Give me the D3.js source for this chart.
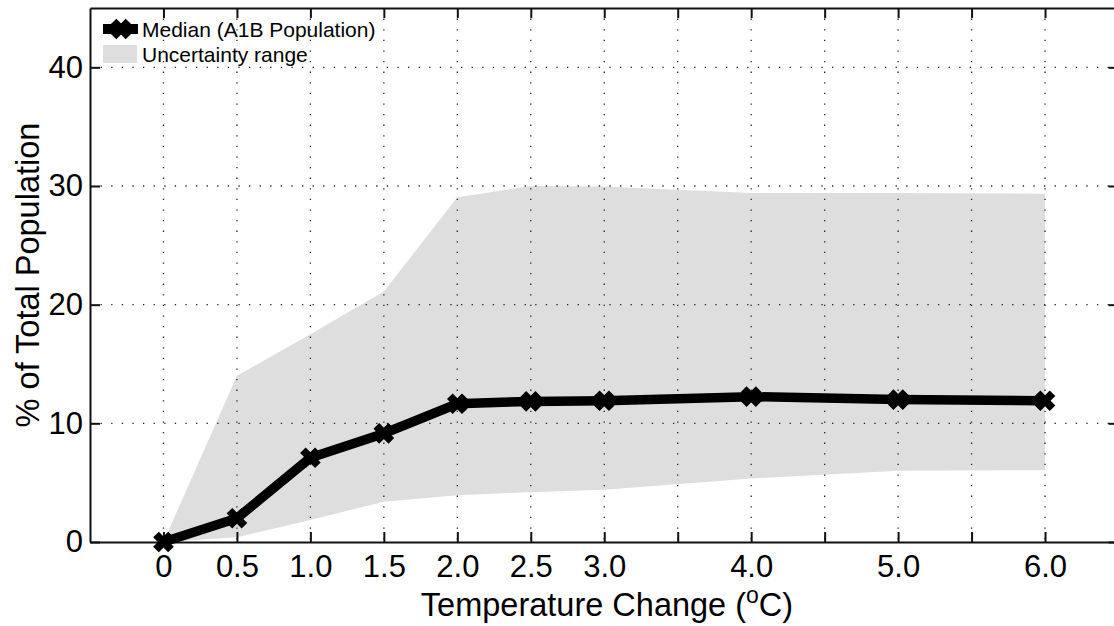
<!DOCTYPE html>
<html><head><meta charset="utf-8">
<script src="https://cdn.jsdelivr.net/npm/d3@7/dist/d3.min.js"></script>
<style>
html,body{margin:0;padding:0;background:#fff;}
svg{display:block;font-family:"Liberation Sans",Arial,Helvetica,sans-serif;}
</style></head>
<body>
<svg id="chart" width="1114" height="626"></svg>
<script>
// ---- data ----
const temps  = [0, 0.5, 1.0, 1.5, 2.0, 2.5, 3.0, 4.0, 5.0, 6.0];
const median = [0, 2.0, 7.1, 9.15, 11.65, 11.85, 11.9, 12.25, 12.0, 11.9];
const upper  = [0, 14.0, 17.5, 21.1, 29.05, 30.0, 29.95, 29.4, 29.4, 29.35];
const lower  = [0, 0.4, 1.85, 3.4, 3.95, 4.2, 4.4, 5.35, 6.0, 6.05];
const xTicks = [0, 0.5, 1.0, 1.5, 2.0, 2.5, 3.0, 3.5, 4.0, 4.5, 5.0, 5.5, 6.0];
const xTickLabels = ["0", "0.5", "1.0", "1.5", "2.0", "2.5", "3.0", "", "4.0", "", "5.0", "", "6.0"];
const yTicks = [0, 10, 20, 30, 40];
const legendLabels = ["Median (A1B Population)", "Uncertainty range"];

const svg = d3.select("#chart");
const x = d3.scaleLinear().domain([-0.5, 6.5]).range([90, 1118.5]);
const y = d3.scaleLinear().domain([0, 45]).range([542, 8]);
const X0 = x.range()[0], X1 = x.range()[1], Y0 = y.range()[0], Y1 = y.range()[1];

const pts = temps.map((t, i) => ({t, m: median[i], u: upper[i], l: lower[i]}));

// band
svg.append("path")
  .datum(pts)
  .attr("fill", "#dedede")
  .attr("d", d3.area().x(d => x(d.t)).y0(d => y(d.l)).y1(d => y(d.u)));

// grid
const grid = svg.append("g").attr("stroke", "#222").attr("stroke-width", 1.3)
  .attr("stroke-dasharray", "1.3,9.3");
grid.selectAll(".gv").data(xTicks).join("line")
  .attr("x1", d => x(d)).attr("x2", d => x(d)).attr("y1", Y1).attr("y2", Y0);
grid.selectAll(".gh").data(yTicks.filter(v => v > 0)).join("line")
  .attr("y1", d => y(d)).attr("y2", d => y(d)).attr("x1", X0).attr("x2", X1);

// axes
const fmtX = (d) => xTickLabels[xTicks.indexOf(d)];
const axB = svg.append("g").attr("transform", `translate(0,${Y0})`)
  .call(d3.axisBottom(x).tickValues(xTicks).tickFormat(fmtX).tickSize(-10).tickSizeOuter(0).tickPadding(13));
const axT = svg.append("g").attr("transform", `translate(0,${Y1})`)
  .call(d3.axisTop(x).tickValues(xTicks).tickFormat("").tickSize(-10).tickSizeOuter(0));
const axL = svg.append("g").attr("transform", `translate(${X0},0)`)
  .call(d3.axisLeft(y).tickValues(yTicks).tickFormat(d3.format("d")).tickSize(-10).tickSizeOuter(0).tickPadding(7));
const axR = svg.append("g").attr("transform", `translate(${X1},0)`)
  .call(d3.axisRight(y).tickValues(yTicks).tickFormat("").tickSize(-10).tickSizeOuter(0));
[axB, axT, axL, axR].forEach(a => {
  a.selectAll("path.domain").attr("stroke", "#111").attr("stroke-width", 2);
  a.selectAll(".tick line").attr("stroke", "#111").attr("stroke-width", 2);
  a.selectAll(".tick text").attr("fill", "#000").attr("font-size", 31)
    .attr("font-family", '"Liberation Sans",Arial,Helvetica,sans-serif');
});

// median line
svg.append("path")
  .datum(pts)
  .attr("fill", "none").attr("stroke", "#000").attr("stroke-width", 9.5)
  .attr("stroke-linejoin", "miter")
  .attr("d", d3.line().x(d => x(d.t)).y(d => y(d.m)));

const xMark = "M-7.5,-7.5L7.5,7.5M-7.5,7.5L7.5,-7.5";
svg.append("g").selectAll("path").data(pts).join("path")
  .attr("transform", d => `translate(${x(d.t)},${y(d.m)})`)
  .attr("d", xMark).attr("stroke", "#000").attr("stroke-width", 8).attr("fill", "none");

// axis titles
svg.append("text")
  .attr("transform", `translate(28,${(Y0 + 8) / 2}) rotate(-90)`)
  .attr("text-anchor", "middle").attr("dy", "0.35em")
  .attr("font-size", 32.5).attr("fill", "#000")
  .text("% of Total Population");

const xt = svg.append("text")
  .attr("x", 607).attr("y", 616)
  .attr("text-anchor", "middle").attr("font-size", 32.5).attr("fill", "#000");
xt.append("tspan").text("Temperature Change (");
xt.append("tspan").attr("font-size", 23).attr("dy", -13).text("o");
xt.append("tspan").attr("dy", 13).text("C)");

// legend
const lg = svg.append("g");
lg.append("line").attr("x1", 103).attr("x2", 138).attr("y1", 29).attr("y2", 29)
  .attr("stroke", "#000").attr("stroke-width", 10);
lg.append("path").attr("transform", "translate(121,29)").attr("d", xMark)
  .attr("stroke", "#000").attr("stroke-width", 8).attr("fill", "none");
lg.append("rect").attr("x", 103).attr("y", 45).attr("width", 34).attr("height", 18).attr("fill", "#dedede");
lg.selectAll("text").data(legendLabels).join("text")
  .attr("x", 142).attr("y", (d, i) => 36.5 + i * 25)
  .attr("font-size", 21).attr("fill", "#000")
  .text(d => d);
</script>
</body></html>
